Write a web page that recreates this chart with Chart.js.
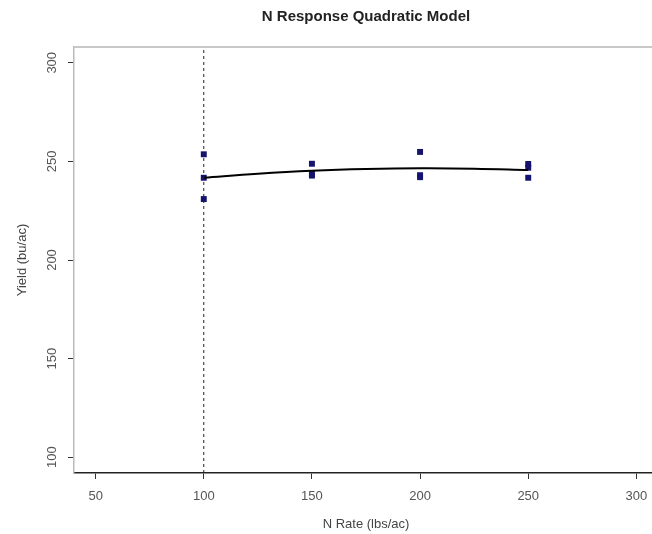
<!DOCTYPE html>
<html>
<head>
<meta charset="utf-8">
<script src="https://cdn.jsdelivr.net/npm/chart.js@4.4.1/dist/chart.umd.min.js"></script>
<style>
  html, body { margin: 0; padding: 0; background: #fff; overflow: hidden; }
  #wrap { width: 652px; height: 534px; overflow: hidden; }
</style>
</head>
<body>
<div id="wrap"><canvas id="my-chart" width="680" height="534"></canvas></div>
<script>
// observed yields (bu/ac) at each N rate
const nRates = [100, 100, 100, 150, 150, 150, 200, 200, 200, 250, 250, 250]
const yields = [253.6, 241.7, 230.9, 248.8, 243.6, 242.8, 254.8, 243.0, 242.0, 248.7, 246.8, 241.7]

// fitted quadratic curve
const curveRates = [100, 125, 150, 175, 200, 225, 250]
const curveYields = [241.7, 243.7, 245.2, 246.1, 246.5, 246.3, 245.6]

// dashed reference line
const refRate = 100

const xTicks = [50, 100, 150, 200, 250, 300]
const yTicks = [100, 150, 200, 250, 300]
const xMin = 40, xMax = 310, yMin = 92, yMax = 308

const font = "'Liberation Sans', Arial, sans-serif"

const points = nRates.map((x, i) => ({ x: x, y: yields[i] }))
const curve = curveRates.map((x, i) => ({ x: x, y: curveYields[i] }))

// y tick labels rotated like base R, plus top edge of the box
const rPlotExtras = {
  id: 'rPlotExtras',
  afterDraw(chart) {
    const ctx = chart.ctx
    const area = chart.chartArea
    const yScale = chart.scales.y
    ctx.save()
    ctx.strokeStyle = '#c8c8c8'
    ctx.lineWidth = 2
    ctx.beginPath()
    ctx.moveTo(area.left, area.top)
    ctx.lineTo(area.right, area.top)
    ctx.stroke()

    ctx.fillStyle = '#555'
    ctx.font = '13px ' + font
    ctx.textAlign = 'center'
    ctx.textBaseline = 'middle'
    yTicks.forEach((v) => {
      ctx.save()
      ctx.translate(52, yScale.getPixelForValue(v))
      ctx.rotate(-Math.PI / 2)
      ctx.fillText(String(v), 0, 0)
      ctx.restore()
    })
    ctx.restore()
  }
}

new Chart(document.getElementById('my-chart').getContext('2d'), {
  type: 'scatter',
  data: {
    datasets: [
      {
        type: 'line',
        data: [{ x: refRate, y: yMin }, { x: refRate, y: yMax }],
        borderColor: '#222',
        borderWidth: 1,
        borderDash: [3, 3],
        pointRadius: 0,
        fill: false
      },
      {
        type: 'line',
        data: curve,
        borderColor: '#000',
        borderWidth: 2,
        pointRadius: 0,
        tension: 0.4,
        fill: false
      },
      {
        data: points,
        pointStyle: 'rect',
        pointRadius: 4.2,
        backgroundColor: '#14146e',
        borderColor: '#14146e',
        borderWidth: 0
      }
    ]
  },
  options: {
    responsive: false,
    animation: false,
    layout: { padding: { top: 0, left: 0, bottom: 0, right: 22 } },
    plugins: {
      legend: { display: false },
      tooltip: { enabled: false },
      title: {
        display: true,
        text: 'N Response Quadratic Model',
        fullSize: false,
        color: '#222',
        font: { family: font, size: 15, weight: 'bold', lineHeight: 1.2 },
        padding: { top: 8, bottom: 21 }
      }
    },
    scales: {
      x: {
        type: 'linear',
        min: xMin,
        max: xMax,
        afterBuildTicks: (s) => { s.ticks = xTicks.map((v) => ({ value: v })) },
        afterFit: (s) => { s.height = 61 },
        grid: { drawOnChartArea: false, drawTicks: true, tickLength: 6, color: '#333' },
        border: { color: '#222', width: 1.5 },
        ticks: { color: '#555', font: { family: font, size: 13 }, padding: 10, maxRotation: 0 },
        title: {
          display: true,
          text: 'N Rate (lbs/ac)',
          color: '#444',
          font: { family: font, size: 13, lineHeight: 1.2 },
          padding: { top: 0, bottom: 2 }
        }
      },
      y: {
        type: 'linear',
        min: yMin,
        max: yMax,
        afterBuildTicks: (s) => { s.ticks = yTicks.map((v) => ({ value: v })) },
        afterFit: (s) => { s.width = 74 },
        grid: { drawOnChartArea: false, drawTicks: true, tickLength: 6, color: '#333' },
        border: { color: '#bbb', width: 1.5 },
        ticks: { display: false },
        title: {
          display: true,
          text: 'Yield (bu/ac)',
          color: '#444',
          font: { family: font, size: 13, lineHeight: 1.2 },
          padding: { top: 15, bottom: 0 }
        }
      }
    }
  },
  plugins: [rPlotExtras]
})
</script>
</body>
</html>
